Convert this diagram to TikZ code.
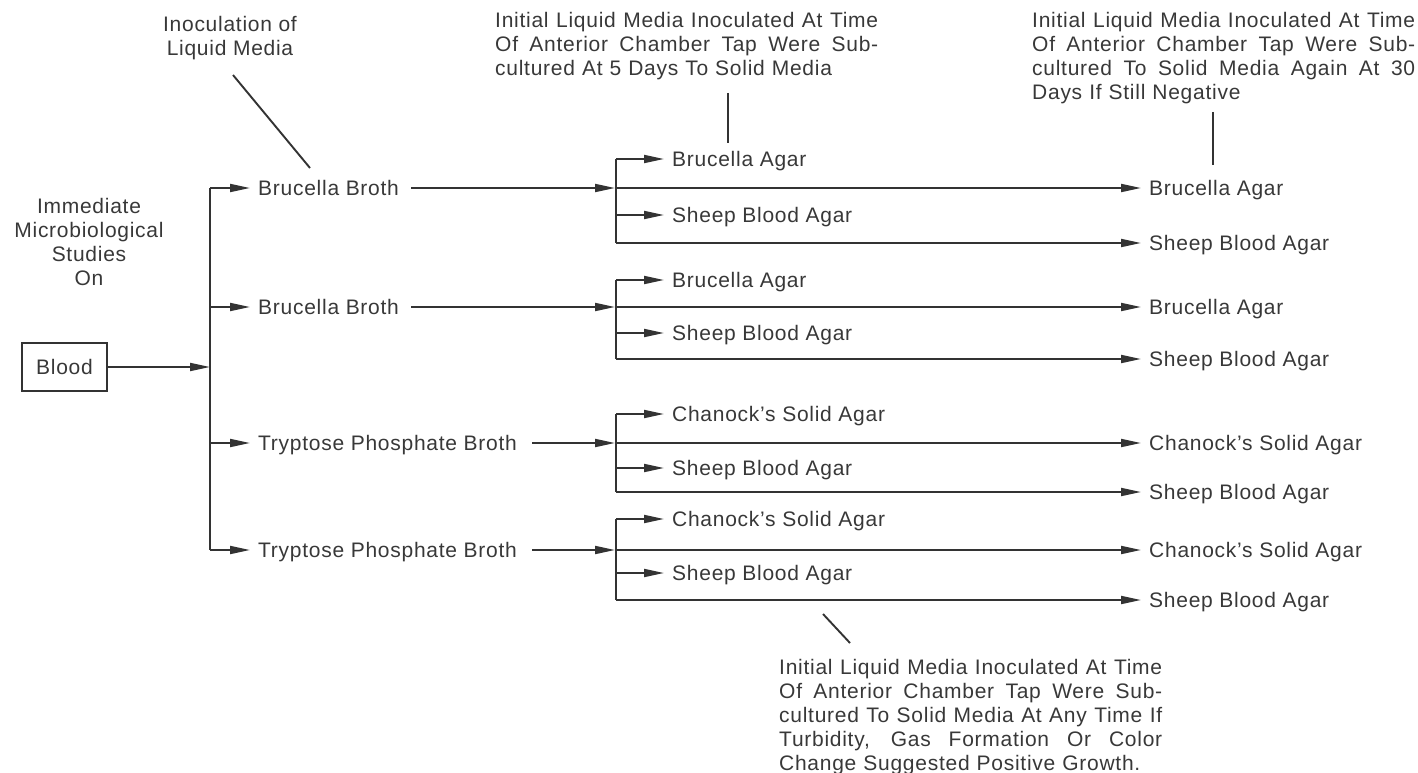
\documentclass[tikz,border=0pt]{standalone}
\usepackage{fontspec}
\setmainfont{Liberation Sans}[LetterSpace=3.5]
\usetikzlibrary{arrows.meta}
\definecolor{ln}{HTML}{333333}
\definecolor{txt}{HTML}{383838}
\newcommand{\mysz}{\fontsize{21}{24}\selectfont}
\newcommand{\jl}[1]{\leavevmode\hbox to 383pt{\spaceskip=0.27em plus 1fil\relax #1}}
\tikzset{
  lbl/.style={anchor=west, inner xsep=8pt, inner ysep=0pt, text height=15pt, text depth=0pt, font=\mysz, text=txt},
  conn/.style={draw=ln, line width=1.9pt, -{Triangle[length=20pt,width=8pt]}},
  plainln/.style={draw=ln, line width=1.9pt},
  ann/.style={anchor=north west, inner sep=0pt, text width=383pt, align=left, font=\mysz, text=txt},
  cann/.style={anchor=north, inner sep=0pt, align=center, font=\mysz, text=txt},
  boxnode/.style={draw=ln, line width=1.9pt, minimum width=85pt, minimum height=48pt, inner sep=0pt, font=\mysz, text=txt}
}
\begin{document}
\begin{tikzpicture}[x=1pt,y=-1pt]
\useasboundingbox (0,0) rectangle (1418,773);
% start
\node[boxnode] (blood) at (64.5,367) {Blood};
\node[cann] (imm) at (89,198) {Immediate\\Microbiological\\Studies\\On};
\node[cann] (inoc) at (230,16) {Inoculation of\\Liquid Media};
% trunk
\coordinate (t1) at (210,188);
\coordinate (t2) at (210,307);
\coordinate (t3) at (210,443);
\coordinate (t4) at (210,550);
\coordinate (j0) at (210,367);
\draw[plainln] (t1) -- (t4);
\draw[conn] (blood.east) -- (j0);
% broths
\node[lbl] (b1) at (250,188) {Brucella Broth};
\node[lbl] (b2) at (250,307) {Brucella Broth};
\node[lbl] (b3) at (250,443) {Tryptose Phosphate Broth};
\node[lbl] (b4) at (250,550) {Tryptose Phosphate Broth};
\draw[conn] (t1) -- (b1.west);
\draw[conn] (t2) -- (b2.west);
\draw[conn] (t3) -- (b3.west);
\draw[conn] (t4) -- (b4.west);
% group coordinates
\coordinate (g1t) at (616,159); \coordinate (g1m) at (616,188); \coordinate (g1s) at (616,215); \coordinate (g1b) at (616,243);
\coordinate (g2t) at (616,280); \coordinate (g2m) at (616,307); \coordinate (g2s) at (616,333); \coordinate (g2b) at (616,359);
\coordinate (g3t) at (616,414); \coordinate (g3m) at (616,443); \coordinate (g3s) at (616,468); \coordinate (g3b) at (616,492);
\coordinate (g4t) at (616,519); \coordinate (g4m) at (616,550); \coordinate (g4s) at (616,573); \coordinate (g4b) at (616,600);
\draw[plainln] (g1t) -- (g1b);
\draw[plainln] (g2t) -- (g2b);
\draw[plainln] (g3t) -- (g3b);
\draw[plainln] (g4t) -- (g4b);
\draw[conn, shorten >=1pt] ([xshift=4pt]b1.east) -- (g1m);
\draw[conn, shorten >=1pt] ([xshift=4pt]b2.east) -- (g2m);
\draw[conn, shorten >=1pt] ([xshift=7pt]b3.east) -- (g3m);
\draw[conn, shorten >=1pt] ([xshift=7pt]b4.east) -- (g4m);
% first subculture
\node[lbl] (s1a) at (664,159) {Brucella Agar};
\node[lbl] (s1b) at (664,215) {Sheep Blood Agar};
\node[lbl] (s2a) at (664,280) {Brucella Agar};
\node[lbl] (s2b) at (664,333) {Sheep Blood Agar};
\node[lbl] (s3a) at (664,414) {Chanock's Solid Agar};
\node[lbl] (s3b) at (664,468) {Sheep Blood Agar};
\node[lbl] (s4a) at (664,519) {Chanock's Solid Agar};
\node[lbl] (s4b) at (664,573) {Sheep Blood Agar};
\draw[conn] (g1t) -- (s1a.west);
\draw[conn] (g1s) -- (s1b.west);
\draw[conn] (g2t) -- (s2a.west);
\draw[conn] (g2s) -- (s2b.west);
\draw[conn] (g3t) -- (s3a.west);
\draw[conn] (g3s) -- (s3b.west);
\draw[conn] (g4t) -- (s4a.west);
\draw[conn] (g4s) -- (s4b.west);
% second subculture
\node[lbl] (r1a) at (1141,188) {Brucella Agar};
\node[lbl] (r1b) at (1141,243) {Sheep Blood Agar};
\node[lbl] (r2a) at (1141,307) {Brucella Agar};
\node[lbl] (r2b) at (1141,359) {Sheep Blood Agar};
\node[lbl] (r3a) at (1141,443) {Chanock's Solid Agar};
\node[lbl] (r3b) at (1141,492) {Sheep Blood Agar};
\node[lbl] (r4a) at (1141,550) {Chanock's Solid Agar};
\node[lbl] (r4b) at (1141,600) {Sheep Blood Agar};
\draw[conn] (g1m) -- (r1a.west);
\draw[conn] (g1b) -- (r1b.west);
\draw[conn] (g2m) -- (r2a.west);
\draw[conn] (g2b) -- (r2b.west);
\draw[conn] (g3m) -- (r3a.west);
\draw[conn] (g3b) -- (r3b.west);
\draw[conn] (g4m) -- (r4a.west);
\draw[conn] (g4b) -- (r4b.west);
% annotations
\node[ann] (n1) at (495,12) {\jl{Initial Liquid Media Inoculated At Time}\\\jl{Of Anterior Chamber Tap Were Sub-}\\cultured At 5 Days To Solid Media};
\node[ann] (n2) at (1032,12) {\jl{Initial Liquid Media Inoculated At Time}\\\jl{Of Anterior Chamber Tap Were Sub-}\\\jl{cultured To Solid Media Again At 30}\\Days If Still Negative};
\node[ann] (n3) at (779,659) {\jl{Initial Liquid Media Inoculated At Time}\\\jl{Of Anterior Chamber Tap Were Sub-}\\\jl{cultured To Solid Media At Any Time If}\\\jl{Turbidity, Gas Formation Or Color}\\Change Suggested Positive Growth.};
\coordinate (p1a) at (233,75); \coordinate (p1b) at (310,168);
\coordinate (p2a) at (728,93); \coordinate (p2b) at (728,143);
\coordinate (p3a) at (1213,112); \coordinate (p3b) at (1213,165);
\coordinate (p4a) at (823,614); \coordinate (p4b) at (850,643);
\draw[plainln] (p1a) -- (p1b);
\draw[plainln] (p2a) -- (p2b);
\draw[plainln] (p3a) -- (p3b);
\draw[plainln] (p4a) -- (p4b);
\end{tikzpicture}
\end{document}
